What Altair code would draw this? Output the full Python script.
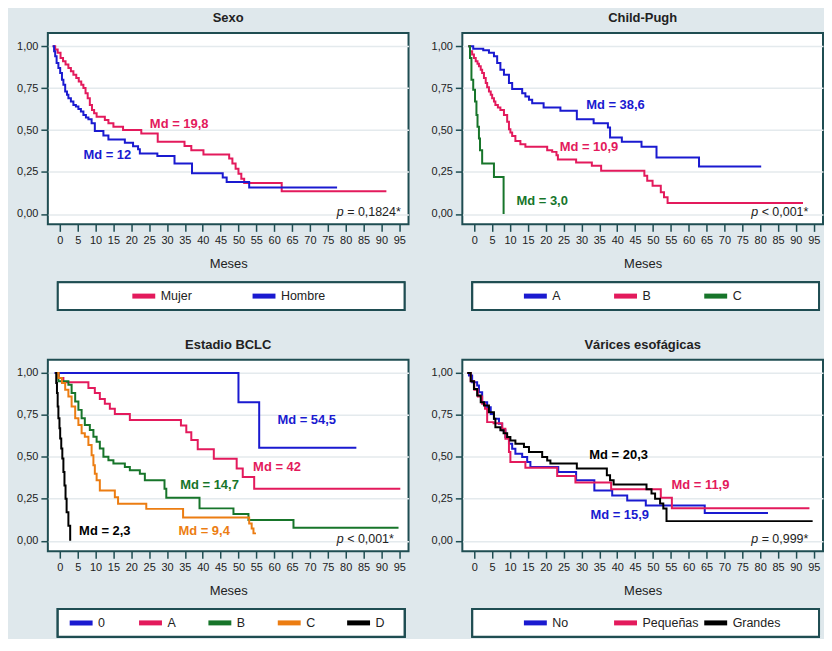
import altair as alt
import pandas as pd

FONT = "Liberation Sans, Arial, sans-serif"
FRAME = "#1f4d52"
TXT = "#222222"
RED = "#e31a5c"
BLUE = "#1a1ad0"
GREEN = "#17752a"
ORANGE = "#ec7d12"
BLACK = "#000000"

# ---------------- Sexo ----------------
sexo_groups = ["Mujer", "Hombre"]
sexo_colors = [RED, BLUE]
mujer_t = [-2.0, -1.3, -0.6, 0.2, 0.9, 1.6, 2.4, 3.1, 3.8, 4.6, 5.3, 6.0, 6.6, 7.2, 7.8, 8.4, 9.0, 9.6, 10.3,
           12.6, 13.6, 15.0, 17.7, 22.8, 27.4, 34.9, 36.8, 40.2, 47.4, 48.3, 49.2, 50.0, 50.8, 51.6, 62.1, 91.4]
mujer_s = [1.00, 0.98, 0.96, 0.93, 0.91, 0.89, 0.87, 0.85, 0.83, 0.81, 0.79, 0.77, 0.75, 0.72, 0.69, 0.65, 0.62, 0.60, 0.58,
           0.56, 0.54, 0.52, 0.50, 0.48, 0.43, 0.405, 0.38, 0.355, 0.33, 0.30, 0.27, 0.24, 0.21, 0.185, 0.135, 0.135]
hombre_t = [-2.0, -1.6, -1.3, -0.9, -0.4, 0.1, 0.6, 1.0, 1.5, 2.0, 2.4, 3.1, 3.8, 4.5, 5.2, 5.9, 6.6, 7.3, 8.0, 8.9,
            9.8, 12.2, 13.6, 18.2, 20.5, 21.9, 22.4, 27.3, 32.1, 37.0, 45.6, 46.7, 53.0, 77.6]
hombre_s = [1.00, 0.97, 0.94, 0.90, 0.87, 0.84, 0.80, 0.77, 0.73, 0.71, 0.69, 0.67, 0.65, 0.64, 0.625, 0.61, 0.59, 0.575,
            0.565, 0.54, 0.495, 0.467, 0.444, 0.424, 0.404, 0.385, 0.36, 0.345, 0.30, 0.243, 0.217, 0.19, 0.158, 0.158]
sexo_md_text = ["Md = 19,8", "Md = 12"]
sexo_md_t = [25.2, 6.6]
sexo_md_s = [0.535, 0.35]
sexo_p = "= 0,1824*"

# ---------------- Child-Pugh ----------------
cp_groups = ["A", "B", "C"]
cp_colors = [BLUE, RED, GREEN]
cpa_t = [-1.7, -0.3, 2.5, 4.1, 5.5, 6.4, 7.3, 8.3, 9.7, 10.6, 13.4, 14.3, 15.3, 16.2, 19.4, 24.1, 28.7, 33.4, 37.4,
         38.0, 41.3, 46.8, 51.0, 62.9, 80.3]
cpa_s = [1.00, 0.985, 0.975, 0.96, 0.94, 0.90, 0.86, 0.83, 0.78, 0.745, 0.72, 0.70, 0.68, 0.66, 0.635, 0.615, 0.565,
         0.54, 0.515, 0.455, 0.43, 0.40, 0.337, 0.283, 0.283]
cpb_t = [-1.7, -1.2, -0.6, -0.1, 0.4, 0.9, 1.3, 1.8, 2.2, 2.7, 3.2, 3.6, 4.1, 4.6, 5.0, 5.5, 5.9, 6.6, 7.3, 8.3, 9.2,
         9.7, 10.1, 10.6, 11.5, 12.9, 14.3, 20.4, 21.8, 23.0, 23.4, 28.5, 32.9, 35.5, 47.6, 48.4, 49.9, 52.2, 53.1,
         54.1, 92.0]
cpb_s = [1.00, 0.97, 0.95, 0.93, 0.91, 0.895, 0.88, 0.86, 0.84, 0.81, 0.78, 0.755, 0.73, 0.71, 0.69, 0.67, 0.65, 0.635,
         0.62, 0.59, 0.55, 0.505, 0.485, 0.465, 0.435, 0.416, 0.40, 0.38, 0.37, 0.35, 0.325, 0.307, 0.287, 0.257,
         0.228, 0.198, 0.168, 0.129, 0.099, 0.066, 0.066]
cpc_t = [-1.7, -1.2, -0.8, -0.3, 0.2, 0.6, 0.9, 1.3, 1.6, 2.2, 5.5, 8.2]
cpc_s = [1.00, 0.93, 0.80, 0.74, 0.67, 0.59, 0.52, 0.45, 0.38, 0.30, 0.22, 0.0]
cp_md_text = ["Md = 38,6", "Md = 10,9", "Md = 3,0"]
cp_md_t = [31.3, 23.9, 11.8]
cp_md_s = [0.647, 0.396, 0.075]
cp_p = "< 0,001*"

# ---------------- Estadio BCLC ----------------
bclc_groups = ["0", "A", "B", "C", "D"]
bclc_colors = [BLUE, RED, GREEN, ORANGE, BLACK]
b0_t = [-1.5, 50.0, 55.8, 83.0]
b0_s = [1.00, 0.826, 0.554, 0.554]
ba_t = [-1.2, -0.3, 1.0, 8.0, 9.8, 11.2, 12.6, 14.0, 15.4, 19.6, 33.9, 35.4, 36.8, 38.6, 43.1, 49.5, 51.2, 54.4, 95.3]
ba_s = [1.00, 0.97, 0.945, 0.91, 0.88, 0.845, 0.816, 0.786, 0.756, 0.72, 0.687, 0.647, 0.60, 0.545, 0.489, 0.43,
        0.38, 0.31, 0.31]
bb_t = [-1.2, -0.4, 2.4, 3.3, 4.3, 5.2, 6.1, 7.0, 8.4, 9.4, 10.3, 11.2, 12.2, 13.6, 15.0, 18.2, 19.6, 22.4, 23.8,
        29.3, 29.8, 39.1, 48.6, 52.8, 65.4, 94.8]
bb_s = [1.00, 0.95, 0.93, 0.88, 0.83, 0.78, 0.73, 0.69, 0.66, 0.62, 0.59, 0.55, 0.50, 0.48, 0.46, 0.44, 0.42, 0.40,
        0.36, 0.31, 0.257, 0.193, 0.159, 0.123, 0.077, 0.077]
bc_t = [-1.2, -0.4, 0.6, 1.5, 2.4, 3.3, 4.3, 5.2, 6.1, 7.0, 8.0, 8.9, 9.4, 9.8, 10.3, 11.2, 15.4, 16.3, 24.2, 34.5,
        53.0, 53.7, 54.2, 54.9]
bc_s = [1.00, 0.97, 0.94, 0.90, 0.86, 0.80, 0.73, 0.69, 0.64, 0.62, 0.57, 0.51, 0.45, 0.40, 0.36, 0.30, 0.26, 0.22,
        0.19, 0.139, 0.103, 0.073, 0.044, 0.044]
bd_t = [-1.3, -1.0, -0.8, -0.6, -0.4, -0.1, 0.1, 0.4, 0.7, 1.0, 1.3, 1.6, 1.9, 2.4, 2.9]
bd_s = [1.00, 0.94, 0.88, 0.80, 0.73, 0.67, 0.61, 0.55, 0.49, 0.41, 0.33, 0.25, 0.17, 0.09, 0.0]
bclc_md_text = ["Md = 54,5", "Md = 42", "Md = 14,7", "Md = 9,4", "Md = 2,3"]
bclc_md_t = [60.9, 54.1, 33.7, 33.2, 5.4]
bclc_md_s = [0.717, 0.44, 0.33, 0.06, 0.06]
bclc_p = "< 0,001*"

# ---------------- Várices esofágicas ----------------
var_groups = ["No", "Pequeñas", "Grandes"]
var_colors = [BLUE, RED, BLACK]
vno_t = [-1.95, -1.5, -0.6, 0.8, 1.3, 2.2, 3.6, 4.6, 5.5, 6.9, 7.8, 8.7, 9.7, 10.6, 11.5, 13.4, 14.8, 15.7, 23.5,
         28.5, 33.6, 38.6, 42.8, 48.0, 64.5, 82.2]
vno_s = [1.0, 0.985, 0.945, 0.925, 0.885, 0.826, 0.796, 0.756, 0.727, 0.697, 0.658, 0.618, 0.578, 0.548, 0.519, 0.499,
         0.469, 0.44, 0.41, 0.36, 0.30, 0.27, 0.24, 0.21, 0.165, 0.165]
vpe_t = [-1.95, -1.0, 0.0, 1.0, 2.2, 3.0, 3.6, 5.4, 7.8, 8.7, 9.7, 10.1, 14.3, 23.2, 28.3, 38.3, 52.2, 55.3, 93.8]
vpe_s = [1.0, 0.95, 0.90, 0.86, 0.816, 0.786, 0.707, 0.70, 0.667, 0.608, 0.529, 0.469, 0.435, 0.386, 0.347, 0.307,
         0.257, 0.194, 0.194]
vgr_t = [-1.95, -1.0, -0.1, 0.8, 1.8, 2.7, 4.1, 5.5, 5.9, 7.3, 8.2, 9.2, 10.1, 11.5, 13.9, 15.3, 19.0, 20.4, 21.3,
         28.7, 37.1, 38.0, 39.0, 48.2, 49.6, 50.6, 52.0, 52.9, 53.8, 94.7]
vgr_s = [1.0, 0.95, 0.905, 0.866, 0.826, 0.806, 0.766, 0.727, 0.677, 0.658, 0.64, 0.618, 0.598, 0.578, 0.559, 0.529,
         0.499, 0.479, 0.46, 0.43, 0.39, 0.36, 0.335, 0.307, 0.281, 0.251, 0.222, 0.192, 0.117, 0.117]
var_md_text = ["Md = 15,9", "Md = 11,9", "Md = 20,3"]
var_md_t = [32.5, 55.2, 32.2]
var_md_s = [0.152, 0.33, 0.509]
var_p = "= 0,999*"

x_ticks = list(range(0, 100, 5))
y_ticks = [0.0, 0.25, 0.5, 0.75, 1.0]
p_pos_t = 77.5
p_pos_s = 0.012

PLOT_W, PLOT_H = 362, 192
LEG_H = 28


def make_panel(key, title, groups, colors, curves, md_text, md_t, md_s, ptext, leg_pad, leg_align):
    gf = "grupo_" + key
    rows = []
    for g, (tt, ss) in zip(groups, curves):
        for i, (a, b) in enumerate(zip(tt, ss)):
            rows.append({gf: g, "t": a, "s": b, "i": i})
    df = pd.DataFrame(rows)
    cscale = alt.Scale(domain=groups, range=colors)
    cenc = alt.Color(gf + ":N", scale=cscale, legend=None)
    xenc = alt.X("t:Q", scale=alt.Scale(domain=[-3.35, 97.6], nice=False, zero=False),
                 axis=alt.Axis(values=x_ticks, title="Meses", grid=False, labelFlush=False,
                               labelOverlap=False, labelSeparation=0))
    yenc = alt.Y("s:Q", scale=alt.Scale(domain=[-0.062, 1.078], nice=False, zero=False),
                 axis=alt.Axis(values=y_ticks, title=None, grid=True,
                               labelExpr="replace(format(datum.value, '.2f'), '.', ',')"))
    lines = alt.Chart(df).mark_line(interpolate="step-after", strokeWidth=2).encode(
        x=xenc, y=yenc, color=cenc, order="i:Q")
    mdf = pd.DataFrame({gf: groups, "label": md_text, "t": md_t, "s": md_s})
    md = alt.Chart(mdf).mark_text(align="left", baseline="middle", font=FONT, fontSize=13,
                                  fontWeight="bold").encode(x=xenc, y=yenc, text="label:N", color=cenc)
    pdf = pd.DataFrame({"t": [p_pos_t], "s": [p_pos_s], "p": ["p"], "rest": [ptext]})
    p1 = alt.Chart(pdf).mark_text(align="left", baseline="middle", font=FONT, fontSize=12.5,
                                  fontStyle="italic", color=TXT).encode(x=xenc, y=yenc, text="p:N")
    p2 = alt.Chart(pdf).mark_text(align="left", baseline="middle", font=FONT, fontSize=12.5,
                                  dx=10.5, color=TXT).encode(x=xenc, y=yenc, text="rest:N")
    plot = alt.layer(lines, md, p1, p2).properties(
        width=PLOT_W, height=PLOT_H,
        title=alt.TitleParams(title, font=FONT, fontSize=13, fontWeight="bold", color=TXT,
                              anchor="middle", frame="group", offset=8))

    ldf = pd.DataFrame({gf: groups})
    box = alt.Chart(ldf).mark_rect(fill="white", stroke=FRAME, strokeWidth=2).encode(
        x=alt.value(10), x2=alt.value(PLOT_W - 4), y=alt.value(0), y2=alt.value(LEG_H))
    lx = alt.X(gf + ":N", sort=groups, scale=alt.Scale(type="point", padding=leg_pad, align=leg_align), axis=None)
    sym = alt.Chart(ldf).mark_tick(orient="horizontal", size=23, thickness=5, opacity=1).encode(x=lx, color=cenc)
    lab = alt.Chart(ldf).mark_text(align="left", baseline="middle", dx=17, font=FONT, fontSize=12.5,
                                   color=TXT).encode(x=lx, text=gf + ":N")
    legend = alt.layer(box, sym, lab).properties(
        width=PLOT_W, height=LEG_H,
        view=alt.ViewBackground(strokeOpacity=0, fillOpacity=0))
    return alt.vconcat(plot, legend, spacing=10)


p_sexo = make_panel("sexo", "Sexo", sexo_groups, sexo_colors, [(mujer_t, mujer_s), (hombre_t, hombre_s)],
                    sexo_md_text, sexo_md_t, sexo_md_s, sexo_p, 1.79, 0.399)
p_cp = make_panel("cp", "Child-Pugh", cp_groups, cp_colors, [(cpa_t, cpa_s), (cpb_t, cpb_s), (cpc_t, cpc_s)],
                  cp_md_text, cp_md_t, cp_md_s, cp_p, 1.06, 0.405)
p_bclc = make_panel("bclc", "Estadio BCLC", bclc_groups, bclc_colors,
                    [(b0_t, b0_s), (ba_t, ba_s), (bb_t, bb_s), (bc_t, bc_s), (bd_t, bd_s)],
                    bclc_md_text, bclc_md_t, bclc_md_s, bclc_p, 0.6, 0.40)
p_var = make_panel("var", "Várices esofágicas", var_groups, var_colors,
                   [(vno_t, vno_s), (vpe_t, vpe_s), (vgr_t, vgr_s)],
                   var_md_text, var_md_t, var_md_s, var_p, 1.06, 0.405)

row1 = alt.hconcat(p_sexo, p_cp, spacing=20).resolve_scale(color="independent")
row2 = alt.hconcat(p_bclc, p_var, spacing=20).resolve_scale(color="independent")

chart = alt.vconcat(row1, row2, spacing=27).resolve_scale(color="independent").properties(
    background="#dfe8ec",
    padding={"left": 7, "top": 2, "right": 0, "bottom": 0},
).configure_view(
    stroke=FRAME, strokeWidth=2, fill="white"
).configure_axis(
    labelFont=FONT, labelFontSize=11, labelColor=TXT, tickColor=FRAME, tickSize=7, tickWidth=1.5,
    domain=False, labelPadding=3, titleFont=FONT, titleFontSize=13, titleFontWeight="normal",
    titleColor=TXT, titlePadding=12, gridColor="#e4eaed", gridWidth=1.5
)

chart.save("out.html", embed_options={"renderer": "svg", "actions": False})
